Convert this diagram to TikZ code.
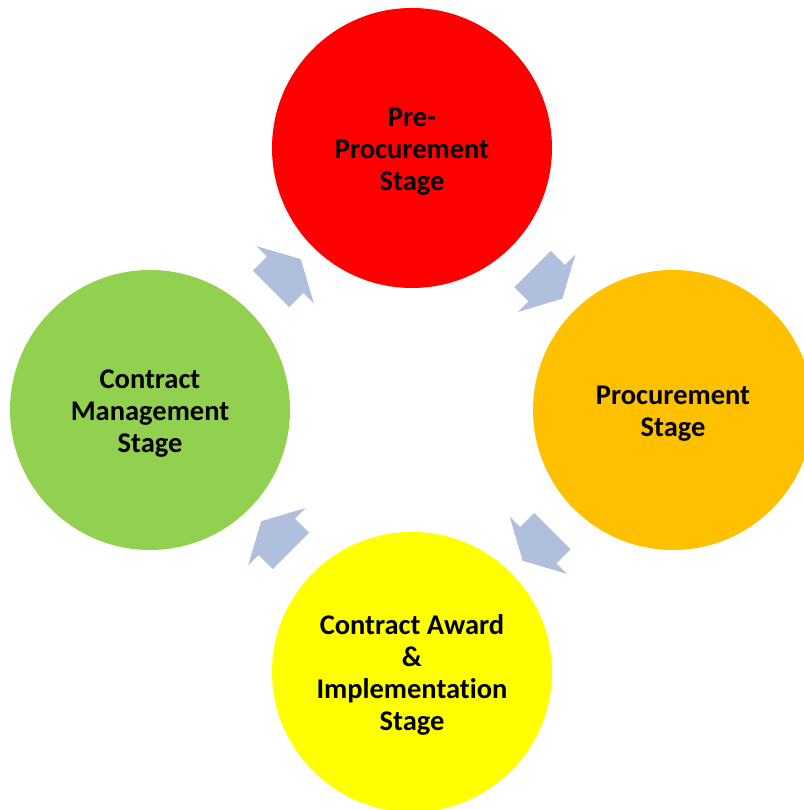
\documentclass[tikz,border=0pt]{standalone}
\usepackage{fontspec}
\setmainfont[Ligatures = NoCommon]{Carlito}
\usetikzlibrary{shapes.arrows, calc}

\definecolor{prered}{RGB}{255,0,0}
\definecolor{procorange}{RGB}{255,192,0}
\definecolor{awardyellow}{RGB}{255,255,0}
\definecolor{mgmtgreen}{RGB}{146,208,80}
\definecolor{cycleblue}{RGB}{176,192,220}

% Invisible strut on the first line, to sit the text a bit lower.
\newcommand{\stagelift}{\rule{0pt}{26pt}}

\begin{document}
\begin{tikzpicture}[%
        x = 1pt,
        y = 1pt,
        stage/.style = {%
            circle,
            minimum size = 280pt,
            inner sep = 0pt,
            align = center,
            font = \bfseries\fontsize{28.5}{32}\selectfont
        },
        cyclearrow/.style = {%
            single arrow,
            fill = cycleblue,
            draw = none,
            inner xsep = 0pt,
            inner ysep = 25.5pt,
            minimum height = 42pt,
            single arrow head extend = 15pt,
            single arrow tip angle = 123
        }
    ]

        % Fix the page to the size of the diagram.
        \useasboundingbox (0, 0) rectangle (803, 810);

        % The four stages of the cycle.
        \node[stage, fill = prered] (pre) at (412, 662)
            {\stagelift Pre-\\Procurement\\Stage};
        \node[stage, fill = procorange] (proc) at (673, 400)
            {\stagelift Procurement\\Stage};
        \node[stage, fill = awardyellow] (award) at (412, 138)
            {\stagelift Contract Award\\\&\\Implementation\\Stage};
        \node[stage, fill = mgmtgreen] (mgmt) at (150, 400)
            {\stagelift Contract\\Management\\Stage};

        % Block arrows running clockwise between the stages.
        \node[cyclearrow, rotate = 45] (mgmttopre) at ($(mgmt)!0.5!(pre)$) {};
        \node[cyclearrow, rotate = -45] (pretoproc) at ($(pre)!0.5!(proc)$) {};
        \node[cyclearrow, rotate = -135] (proctoaward) at ($(proc)!0.5!(award)$) {};
        \node[cyclearrow, rotate = 135] (awardtomgmt) at ($(award)!0.5!(mgmt)$) {};
    \end{tikzpicture}
\end{document}
